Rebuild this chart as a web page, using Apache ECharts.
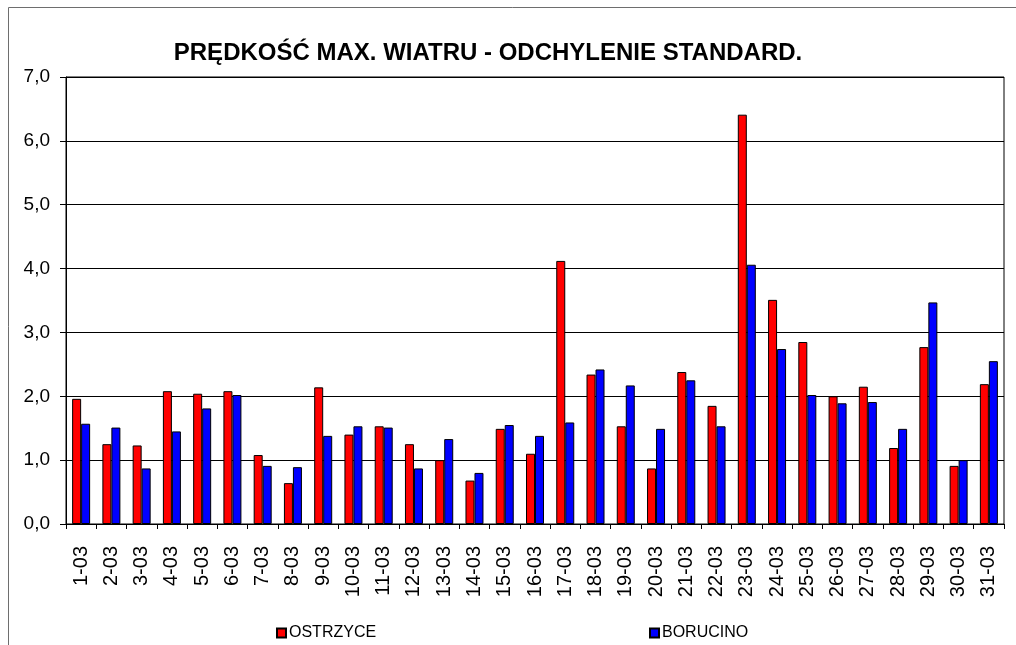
<!DOCTYPE html>
<html>
<head>
<meta charset="utf-8">
<title>Prędkość max. wiatru - odchylenie standard.</title>
<script src="https://cdn.jsdelivr.net/npm/echarts@6/dist/echarts.min.js"></script>
<style>
  html, body { margin: 0; padding: 0; background: #fff; }
  #chart { width: 1016px; height: 645px; }
</style>
</head>
<body>
<div id="chart"></div>
<script>
// Days of March
const days = ['1-03','2-03','3-03','4-03','5-03','6-03','7-03','8-03','9-03','10-03',
  '11-03','12-03','13-03','14-03','15-03','16-03','17-03','18-03','19-03','20-03',
  '21-03','22-03','23-03','24-03','25-03','26-03','27-03','28-03','29-03','30-03','31-03'];

// Standard deviation of max wind speed per station
const ostrzyce = [1.96, 1.25, 1.23, 2.08, 2.04, 2.08, 1.08, 0.64, 2.14, 1.40,
  1.53, 1.25, 1.00, 0.68, 1.49, 1.10, 4.12, 2.34, 1.53, 0.87,
  2.38, 1.85, 6.41, 3.51, 2.85, 2.00, 2.15, 1.19, 2.77, 0.91, 2.19];
const borucino = [1.57, 1.51, 0.87, 1.45, 1.81, 2.02, 0.91, 0.89, 1.38, 1.53,
  1.51, 0.87, 1.33, 0.80, 1.55, 1.38, 1.59, 2.42, 2.17, 1.49,
  2.25, 1.53, 4.06, 2.74, 2.02, 1.89, 1.91, 1.49, 3.47, 1.00, 2.55];

const yTicks = { min: 0, max: 7, step: 1 };

const FONT = '"Liberation Sans", Arial, sans-serif';
const chart = echarts.init(document.getElementById('chart'), null, { renderer: 'canvas' });

chart.setOption({
  animation: false,
  backgroundColor: '#fff',
  textStyle: { fontFamily: FONT, color: '#000' },
  title: {
    text: 'PRĘDKOŚĆ MAX. WIATRU - ODCHYLENIE STANDARD.',
    left: 483, top: 36, textAlign: 'center',
    textStyle: { fontFamily: FONT, fontSize: 24, fontWeight: 'bold', color: '#000' }
  },
  graphic: [{
    type: 'rect', silent: true, z: -1,
    shape: { x: 8.5, y: 7.5, width: 1100, height: 700 },
    style: { fill: 'none', stroke: '#6e6e6e', lineWidth: 1 }
  }],
  legend: [
    { data: ['OSTRZYCE'], left: 276, top: 625, padding: 0, icon: 'rect', itemWidth: 9, itemHeight: 9,
      itemGap: 0, textStyle: { fontFamily: FONT, fontSize: 16, color: '#000', padding: [0, 0, 0, -2] } },
    { data: ['BORUCINO'], left: 649, top: 625, padding: 0, icon: 'rect', itemWidth: 9, itemHeight: 9,
      itemGap: 0, textStyle: { fontFamily: FONT, fontSize: 16, color: '#000', padding: [0, 0, 0, -2] } }
  ],
  grid: { left: 66, right: 12, top: 77, bottom: 121, show: true, borderColor: '#000', borderWidth: 1, containLabel: false },
  xAxis: {
    type: 'category',
    data: days,
    axisLine: { lineStyle: { color: '#000', width: 1 } },
    axisTick: { show: true, alignWithLabel: false, length: 5, lineStyle: { color: '#000' } },
    axisLabel: { rotate: 90, interval: 0, margin: 22, fontFamily: FONT, fontSize: 20, color: '#000' },
    splitLine: { show: false }
  },
  yAxis: {
    type: 'value',
    min: yTicks.min, max: yTicks.max, interval: yTicks.step,
    axisLine: { show: true, lineStyle: { color: '#000', width: 1 } },
    axisTick: { show: true, length: 6, lineStyle: { color: '#000' } },
    axisLabel: {
      margin: 16, fontFamily: FONT, fontSize: 19, color: '#000',
      formatter: v => v.toFixed(1).replace('.', ',')
    },
    splitLine: { show: true, lineStyle: { color: '#000', width: 1 } }
  },
  series: [
    { name: 'OSTRZYCE', type: 'bar', data: ostrzyce, barWidth: 9, barGap: '0%',
      itemStyle: { color: '#ff0000', borderColor: '#000', borderWidth: 1 } },
    { name: 'BORUCINO', type: 'bar', data: borucino, barWidth: 9, barGap: '0%',
      itemStyle: { color: '#0000ff', borderColor: '#000', borderWidth: 1 } }
  ]
});
</script>
</body>
</html>
